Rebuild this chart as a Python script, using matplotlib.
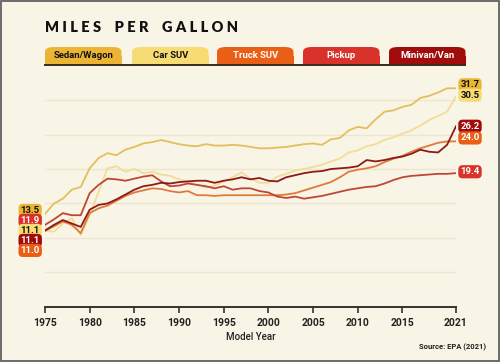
import matplotlib
matplotlib.use('Agg')
import matplotlib.pyplot as plt
import numpy as np
from matplotlib.patches import FancyBboxPatch, Rectangle
from matplotlib.lines import Line2D

years = list(range(1975, 2022))

sedan_wagon = [13.5, 15.0, 15.7, 17.0, 17.4, 20.1, 21.6, 22.3, 22.0, 22.8,
               23.2, 23.7, 23.9, 24.2, 23.9, 23.6, 23.4, 23.3, 23.6, 23.4,
               23.4, 23.5, 23.4, 23.2, 23.0, 23.0, 23.1, 23.2, 23.4, 23.6,
               23.7, 23.5, 24.3, 24.5, 25.6, 26.1, 25.9, 27.2, 28.3, 28.5,
               29.0, 29.3, 30.3, 30.6, 31.1, 31.7, 31.7]
car_suv = [11.1, 10.9, 12.1, 12.9, 10.4, 13.3, 16.7, 20.1, 20.4, 19.6,
           20.0, 19.4, 19.6, 19.2, 19.0, 18.5, 18.2, 17.7, 17.3, 17.6,
           18.2, 18.8, 19.5, 18.6, 18.0, 18.0, 18.9, 19.3, 19.8, 20.0,
           20.3, 20.6, 21.1, 21.5, 22.4, 22.7, 23.3, 23.6, 24.2, 24.6,
           25.1, 25.6, 26.3, 27.1, 27.7, 28.3, 30.5]
truck_suv = [11.0, 11.7, 12.4, 11.9, 10.7, 13.6, 14.3, 14.7, 15.4, 16.1,
             16.6, 16.9, 17.2, 17.1, 16.8, 16.6, 16.8, 16.2, 16.2, 16.1,
             16.2, 16.2, 16.2, 16.2, 16.2, 16.2, 16.2, 16.3, 16.5, 16.9,
             17.3, 17.7, 18.1, 18.8, 19.6, 19.9, 20.1, 20.4, 21.0, 21.5,
             21.9, 22.5, 23.0, 23.4, 23.8, 24.0, 24.0]
pickup = [11.9, 12.7, 13.6, 13.3, 13.3, 16.5, 17.7, 18.6, 18.5, 18.3,
          18.6, 18.9, 19.1, 18.2, 17.5, 17.6, 17.9, 17.7, 17.5, 17.2,
          17.5, 17.0, 17.2, 17.2, 16.8, 16.6, 16.0, 15.8, 16.0, 15.7,
          15.9, 16.1, 16.4, 16.7, 17.0, 17.2, 17.4, 17.5, 17.9, 18.4,
          18.8, 19.0, 19.1, 19.2, 19.3, 19.3, 19.4]
minivan_van = [11.1, 11.9, 12.6, 12.1, 11.6, 14.1, 14.8, 15.0, 15.6, 16.3,
               17.0, 17.5, 17.7, 18.0, 17.9, 18.1, 18.2, 18.3, 18.3, 18.0,
               18.3, 18.5, 18.8, 18.5, 18.7, 18.3, 18.2, 18.8, 19.1, 19.4,
               19.6, 19.7, 20.0, 20.1, 20.2, 20.4, 21.3, 21.1, 21.3, 21.6,
               21.8, 22.2, 22.8, 22.5, 22.4, 23.5, 26.2]

names = ['Sedan/Wagon', 'Car SUV', 'Truck SUV', 'Pickup', 'Minivan/Van']
series = [sedan_wagon, car_suv, truck_suv, pickup, minivan_van]
tab_colors = ['#ebb533', '#f7dc74', '#ea5f16', '#d8322a', '#a00c0c']
tab_text = ['#111111', '#111111', 'white', 'white', 'white']
line_colors = ['#e3bf5c', '#f1dc98', '#df7a3c', '#c04634', '#8e1a18']

# label stacking (order top to bottom) and nudges for the end labels
left_order = [0, 3, 1, 4, 2]
right_nudge = [0.5, 0.2, 0.5, 0.2, 0.0]

xticks = [1975, 1980, 1985, 1990, 1995, 2000, 2005, 2010, 2015, 2021]

bg = '#f9f5e6'
plt.rcParams['font.family'] = ['Roboto', 'DejaVu Sans']

fig = plt.figure(figsize=(5.0, 3.62), dpi=100, facecolor=bg)
ax = fig.add_axes([0.09, 0.152, 0.822, 0.667])
ax.set_facecolor(bg)

for i, s in enumerate(series):
    ax.plot(years, s, color=line_colors[i], lw=1.3, zorder=3 + (i == 4))

ax.set_xlim(1975, 2021)
ax.set_ylim(0, 35)
ax.set_yticks([5, 10, 15, 20, 25, 30])
ax.yaxis.grid(True, color='#ece5cf', lw=1.0)
ax.tick_params(axis='y', length=0, labelleft=False)
ax.set_xticks(xticks)
ax.tick_params(axis='x', direction='out', length=4, width=1.2, color='#333333',
               labelsize=7.5, pad=4)
for lab in ax.get_xticklabels():
    lab.set_fontweight('bold')
    lab.set_color('#222222')
for side in ['left', 'right', 'top']:
    ax.spines[side].set_visible(False)
ax.spines['bottom'].set_color('#333333')
ax.spines['bottom'].set_linewidth(1.4)
ax.set_xlabel('Model Year', fontsize=7, fontweight='medium', color='#222222', labelpad=3)

# start labels, stacked left of the axis
for k, i in enumerate(left_order):
    ax.text(-0.036, 14.0 - 1.45 * k, f'{series[i][0]:.1f}', transform=ax.get_yaxis_transform(),
            ha='center', va='center', fontsize=6.8, fontweight='bold', color=tab_text[i],
            bbox=dict(boxstyle='round,pad=0.22,rounding_size=0.45', fc=tab_colors[i], ec='none'),
            clip_on=False, zorder=6)

# end labels
for i in [0, 1, 4, 2, 3]:
    ax.annotate(f'{series[i][-1]:.1f}', xy=(2021, series[i][-1] + right_nudge[i]),
                xytext=(14, 0), textcoords='offset pixels',
                ha='center', va='center', fontsize=6.8, fontweight='bold', color=tab_text[i],
                bbox=dict(boxstyle='round,pad=0.22,rounding_size=0.45', fc=tab_colors[i], ec='none'),
                annotation_clip=False, zorder=6)

# legend tabs: rounded top, square bottom sitting on a dark rule
W, H = 500.0, 362.0
tab_x = [45, 132, 217, 303, 389]
tab_w = 76.5
for i, name in enumerate(names):
    x0 = tab_x[i] / W
    y0 = (H - 65) / H
    fig.patches.append(FancyBboxPatch((x0, y0), tab_w / W, 18 / H, transform=fig.transFigure,
                                      boxstyle='round,pad=0,rounding_size=0.018',
                                      fc=tab_colors[i], ec='none', mutation_aspect=H / W))
    fig.patches.append(Rectangle((x0, y0), tab_w / W, 9 / H, transform=fig.transFigure,
                                 fc=tab_colors[i], ec='none'))
    fig.text(x0 + tab_w / W / 2, (H - 56) / H, name, ha='center', va='center',
             fontsize=6.8, fontweight='bold', color=tab_text[i])
fig.lines.append(Line2D([45 / W, 465 / W], [(H - 65) / H] * 2, transform=fig.transFigure,
                        color='#3a2c1c', lw=1.4))

fig.text(45 / W, (H - 27) / H, ' '.join('MILES PER GALLON').replace('   ', '    '),
         ha='left', va='center', fontsize=10.5, fontweight='heavy', color='#111111',
         family=['Lato', 'DejaVu Sans'])
fig.text(486 / W, (H - 347) / H, 'Source: EPA (2021)', ha='right', va='center',
         fontsize=5.5, fontweight='bold', color='#222222')

fig.patches.append(Rectangle((0.002, 0.003), 0.996, 0.994, transform=fig.transFigure,
                             fill=False, ec='#555555', lw=1.2))

fig.savefig('out.png', dpi=100, facecolor=bg)
